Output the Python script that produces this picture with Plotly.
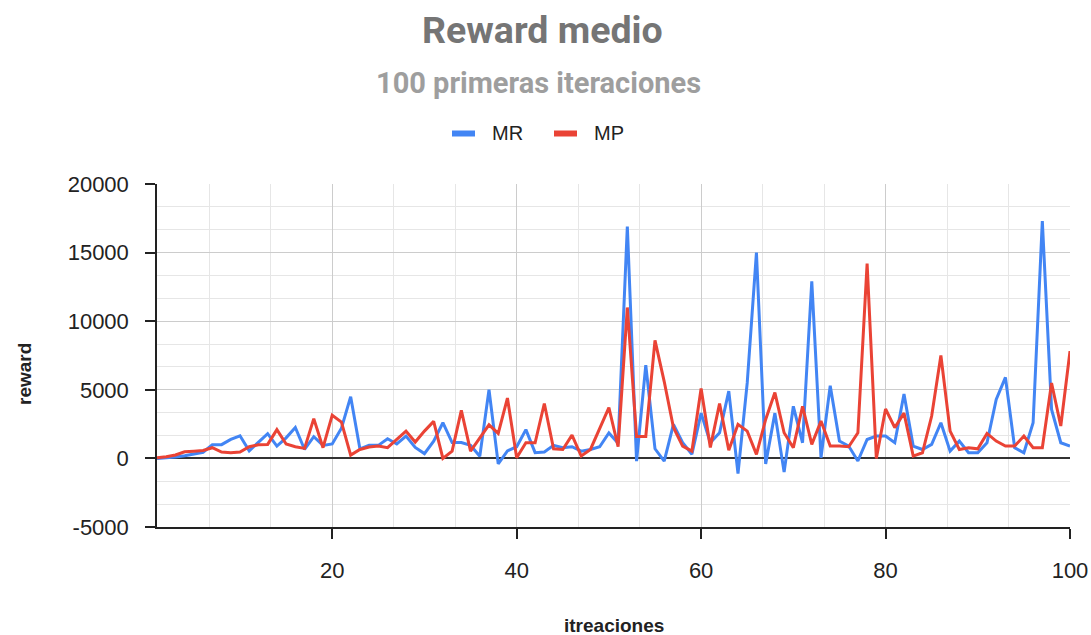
import plotly.graph_objects as go

iteraciones = list(range(1, 101))

MR = [0, 30, 100, 200, 300, 450, 1000, 1000, 1380, 1650,
      550, 1150, 1800, 900, 1500, 2250, 650, 1580, 950, 1050,
      2200, 4500, 700, 950, 950, 1430, 1050, 1630, 800, 350,
      1250, 2600, 1150, 1150, 950, 150, 5000, -400, 550, 850,
      2100, 420, 470, 950, 780, 850, 530, 650, 850, 1850,
      1100, 16900, -200, 6800, 700, -200, 2480, 1140, 300, 3300,
      1140, 1870, 4900, -1100, 5500, 15000, -400, 3300, -1000, 3800,
      1140, 12900, 50, 5300, 1260, 900, -190, 1380, 1630, 1630,
      1140, 4700, 900, 650, 1020, 2600, 530, 1260, 410, 410,
      1140, 4300, 5900, 780, 410, 2600, 17300, 3570, 1140, 900]

MP = [50, 120, 250, 480, 530, 580, 780, 460, 410, 460,
      850, 1000, 1020, 2100, 1050, 850, 730, 2900, 780, 3150,
      2650, 240, 650, 830, 900, 780, 1380, 1990, 1190, 1990,
      2700, 0, 530, 3500, 530, 1450, 2450, 1820, 4400, 50,
      1140, 1140, 4000, 700, 650, 1700, 170, 650, 2240, 3700,
      850, 11000, 1600, 1600, 8600, 5600, 2250, 900, 530, 5100,
      800, 4000, 600, 2480, 1990, 290, 2840, 4800, 1870, 780,
      3800, 1020, 2720, 900, 900, 850, 1870, 14200, 0, 3600,
      2240, 3300, 170, 410, 3090, 7500, 1990, 650, 780, 700,
      1820, 1260, 900, 900, 1630, 780, 780, 5500, 2360, 7820]

series_names = ["MR", "MP"]
series_colors = ["#4285F4", "#EA4335"]
y_ticks = [-5000, 0, 5000, 10000, 15000, 20000]
x_ticks = [20, 40, 60, 80, 100]

W, H = 1091, 635
L, R, T, B = 157, 21, 184, 108
PW, PH = W - L - R, H - T - B


def px(x):
    return (x - L) / PW


def py(y):
    return (H - B - y) / PH


fig = go.Figure()
for name, vals, col in zip(series_names, [MR, MP], series_colors):
    fig.add_trace(go.Scatter(x=iteraciones, y=vals, mode="lines", name=name,
                             line=dict(color=col, width=3), showlegend=False))

tick_font = dict(family="Arial, Liberation Sans, sans-serif", size=22, color="#222222")

fig.update_layout(
    width=W, height=H,
    margin=dict(l=L, r=R, t=T, b=B, autoexpand=False),
    paper_bgcolor="white", plot_bgcolor="white",
    xaxis=dict(range=[1, 100], tickmode="array", tickvals=x_ticks,
               ticktext=[str(v) for v in x_ticks], automargin=False,
               ticks="outside", ticklen=10, tickcolor="#222", tickwidth=1.5,
               ticklabelstandoff=13,
               showline=True, linecolor="#222", linewidth=1.5,
               showgrid=True, gridcolor="#cccccc", gridwidth=1,
               minor=dict(tick0=0, dtick=20 / 3, showgrid=True, gridcolor="#e6e6e6", ticks=""),
               zeroline=False, tickfont=tick_font),
    xaxis2=dict(range=[1, 100], overlaying="x", anchor="y", side="bottom", automargin=False,
                tickmode="array", tickvals=x_ticks, showticklabels=False,
                ticks="inside", ticklen=10, tickcolor="#222", tickwidth=1.5,
                showgrid=False, zeroline=False, showline=False),
    yaxis=dict(range=[-5000, 20000], tickmode="array", tickvals=y_ticks,
               ticktext=[str(v) for v in y_ticks], automargin=False,
               ticks="outside", ticklen=10, tickcolor="#222", tickwidth=1.5,
               ticklabelstandoff=12,
               showline=True, linecolor="#222", linewidth=1.5,
               showgrid=True, gridcolor="#cccccc", gridwidth=1,
               minor=dict(tick0=0, dtick=5000 / 3, showgrid=True, gridcolor="#e6e6e6", ticks=""),
               zeroline=True, zerolinecolor="#333333", zerolinewidth=1.5,
               tickfont=tick_font),
)

annotations = [
    dict(text="<b>Reward medio</b>", x=px(542.5), y=py(30), xref="paper", yref="paper",
         showarrow=False, xanchor="center", yanchor="middle",
         font=dict(family="Roboto, sans-serif", size=37.5, color="#757575")),
    dict(text="<b>100 primeras iteraciones</b>", x=px(538), y=py(83), xref="paper", yref="paper",
         showarrow=False, xanchor="center", yanchor="middle",
         font=dict(family="Roboto, sans-serif", size=29, color="#9e9e9e")),
    dict(text="<b>reward</b>", x=px(24), y=py(374), xref="paper", yref="paper",
         showarrow=False, xanchor="center", yanchor="middle", textangle=-90,
         font=dict(family="Arial, Liberation Sans, sans-serif", size=19, color="#222222")),
    dict(text="<b>itreaciones</b>", x=px(614), y=py(625), xref="paper", yref="paper",
         showarrow=False, xanchor="center", yanchor="middle",
         font=dict(family="Arial, Liberation Sans, sans-serif", size=19, color="#222222")),
]

# legend drawn as swatches + labels
legend_swatch_x = [(452, 475), (554, 577)]
legend_text_x = [490, 592]
shapes = []
for (x0, x1), tx, name, col in zip(legend_swatch_x, legend_text_x, series_names, series_colors):
    shapes.append(dict(type="rect", xref="paper", yref="paper",
                       x0=px(x0), x1=px(x1), y0=py(136.5), y1=py(130.5),
                       fillcolor=col, line=dict(width=0)))
    annotations.append(dict(text=name, x=px(tx), y=py(133), xref="paper", yref="paper",
                            showarrow=False, xanchor="left", yanchor="middle",
                            font=dict(family="Arial, Liberation Sans, sans-serif", size=20,
                                      color="#222222")))

fig.update_layout(annotations=annotations, shapes=shapes)
fig.write_html("out.html", config={"displayModeBar": False},
               post_script="document.body.style.margin='0';document.body.style.padding='0';")
